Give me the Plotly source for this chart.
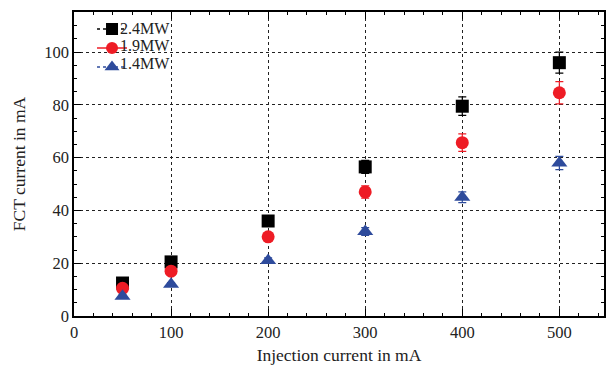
import plotly.graph_objects as go

current = [50, 100, 200, 300, 400, 500]
fct_24 = [12.5, 20.5, 36.0, 56.5, 79.5, 96.0]
err_24 = [0.5, 1.0, 1.5, 2.5, 3.5, 4.0]
fct_19 = [10.5, 17.0, 30.0, 47.0, 65.7, 84.6]
err_19 = [0.5, 1.0, 1.5, 2.3, 3.3, 4.2]
fct_14 = [7.5, 12.0, 21.0, 32.0, 45.0, 58.0]
err_14 = [0.5, 0.7, 1.0, 1.5, 2.0, 2.5]
names = ["2.4MW", "1.9MW", "1.4MW"]

BLACK = "#000000"
RED = "#ee1c25"
BLUE = "#2e4b9c"
FONT = "Liberation Serif"
TXT = "#222222"

fig = go.Figure()

series = [
    (names[0], fct_24, err_24, BLACK, "square", 13, "dot"),
    (names[1], fct_19, err_19, RED, "circle", 13, "solid"),
    (names[2], fct_14, err_14, BLUE, "triangle-up", 14, "dot"),
]

for name, ys, errs, col, sym, size, dash in series:
    fig.add_trace(go.Scatter(
        x=current, y=ys, mode="markers", name=name, showlegend=False,
        marker=dict(symbol=sym, size=size, color=col, line=dict(width=0)),
        error_y=dict(type="data", array=errs, visible=True, color=col,
                     thickness=1.2, width=4),
    ))
    # legend sample (symbol only; text is placed as annotation)
    fig.add_trace(go.Scatter(
        x=[None], y=[None], mode="lines+markers", name=" ",
        line=dict(color=col, width=1.5, dash=dash),
        marker=dict(symbol=sym, size=size - 1, color=col),
    ))

axis_common = dict(
    showline=True, linecolor="black", linewidth=1.5, mirror="ticks",
    ticks="inside", ticklen=7, tickcolor="black",
    showgrid=True, gridcolor="#222", griddash="dot", gridwidth=1,
    zeroline=False,
    tickfont=dict(family=FONT, size=16.5, color=TXT),
    minor=dict(ticks="inside", ticklen=3, tickcolor="black", showgrid=False, nticks=5),
)

fig.update_xaxes(range=[0, 546], dtick=100,
                 title=dict(text="Injection current in mA", font=dict(family=FONT, size=17.5, color=TXT), standoff=8),
                 **axis_common)
fig.update_yaxes(range=[0, 115.2], dtick=20,
                 title=dict(text="FCT current in mA", font=dict(family=FONT, size=17.5, color=TXT), standoff=14),
                 **axis_common)

# legend texts (layout decoration)
leg_y = [0.947, 0.889, 0.831]
for name, yy in zip(names, leg_y):
    fig.add_annotation(x=0.083, y=yy, xref="paper", yref="paper", text=name,
                       showarrow=False, xanchor="left", yanchor="middle",
                       font=dict(family=FONT, size=16, color=TXT))

fig.update_layout(
    width=606, height=365,
    margin=dict(l=74, r=0, t=12, b=49),
    plot_bgcolor="white", paper_bgcolor="white",
    font=dict(family=FONT, color=TXT),
    legend=dict(x=0.034, y=0.992, xanchor="left", yanchor="top",
                bgcolor="rgba(0,0,0,0)", font=dict(family=FONT, size=10, color=TXT),
                tracegroupgap=0, itemwidth=30),
)

fig.write_html("out.html", config={"displayModeBar": False},
               post_script="document.body.style.margin='0';")
